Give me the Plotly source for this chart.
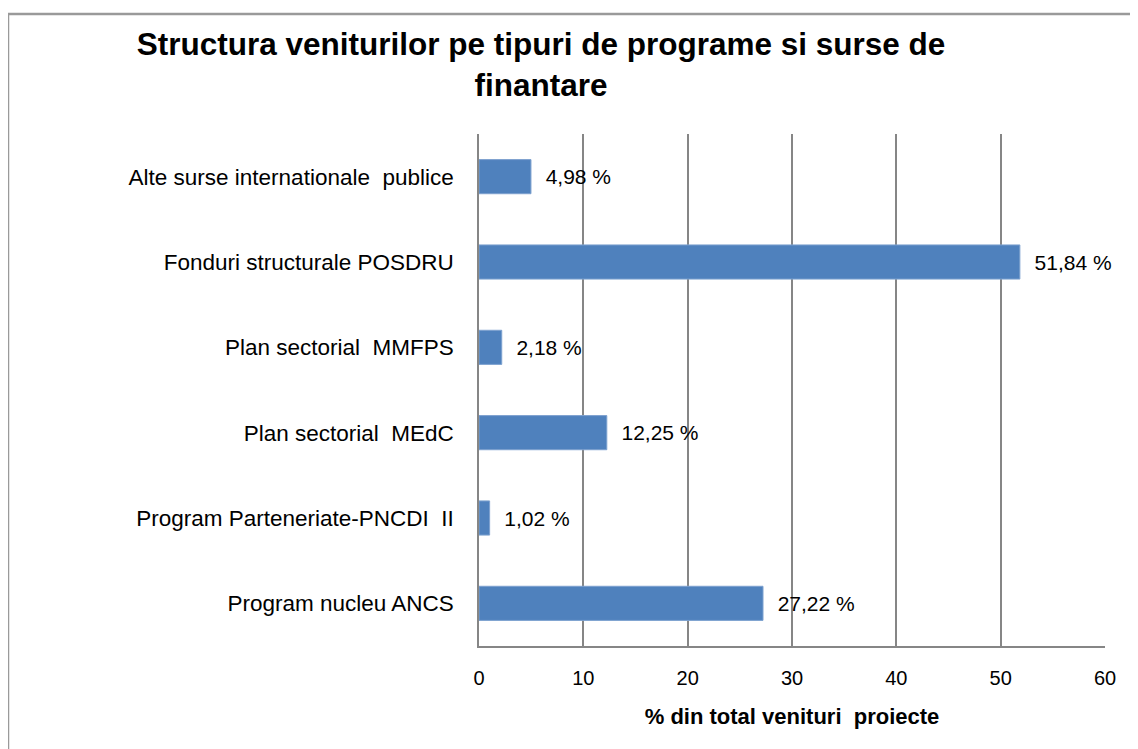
import plotly.graph_objects as go

categories = [
    "Alte surse internationale  publice",
    "Fonduri structurale POSDRU",
    "Plan sectorial  MMFPS",
    "Plan sectorial  MEdC",
    "Program Parteneriate-PNCDI  II",
    "Program nucleu ANCS",
]
values = [4.98, 51.84, 2.18, 12.25, 1.02, 27.22]
value_labels = ["4,98 %", "51,84 %", "2,18 %", "12,25 %", "1,02 %", "27,22 %"]
x_ticks = [0, 10, 20, 30, 40, 50, 60]

font_family = "Liberation Sans, Arial, sans-serif"

# page offset compensation (browser body margin)
OFF = 7
L, T = 478 - OFF, 133 - OFF
PW, PH = 626, 512
W, H = 1138, 749
R = W - L - PW
B = H - T - PH

fig = go.Figure(
    go.Bar(
        y=categories,
        x=values,
        orientation="h",
        marker=dict(color="#4F81BD", line=dict(color="#7DA1CF", width=1)),
        text=["  " + t for t in value_labels],
        textposition="outside",
        textfont=dict(family=font_family, size=21, color="black"),
        cliponaxis=False,
        hoverinfo="skip",
    )
)

bx = -L / PW
by = 1 + (T - 6) / PH

fig.update_layout(
    width=W,
    height=H,
    margin=dict(l=L, r=R, t=T, b=B),
    paper_bgcolor="white",
    plot_bgcolor="white",
    bargap=0.6,
    showlegend=False,
    font=dict(family=font_family, size=20, color="black"),
    title=dict(
        text="<b>Structura veniturilor pe tipuri de programe si surse de<br>finantare</b>",
        x=(540 - OFF) / W,
        xanchor="center",
        y=0.937,
        yanchor="top",
        font=dict(family=font_family, size=31.5, color="black"),
    ),
    shapes=[
        dict(type="line", xref="paper", yref="paper",
             x0=bx, x1=bx + W / PW, y0=by, y1=by,
             line=dict(color="#9a9a9a", width=2.5), layer="below"),
        dict(type="line", xref="paper", yref="paper",
             x0=bx, x1=bx, y0=by, y1=by - H / PH,
             line=dict(color="#9a9a9a", width=2.5), layer="below"),
    ],
)

fig.update_xaxes(
    range=[0, 60],
    tickvals=x_ticks,
    ticktext=[str(v) for v in x_ticks],
    showgrid=True,
    gridcolor="#868686",
    gridwidth=1.5,
    showline=True,
    linecolor="#868686",
    linewidth=1.5,
    zeroline=False,
    ticks="",
    ticklabelstandoff=13,
    tickfont=dict(size=20),
    title=dict(
        text="<b>% din total venituri  proiecte</b>",
        font=dict(size=22),
        standoff=21,
    ),
    fixedrange=True,
)
fig.update_yaxes(
    categoryorder="array",
    categoryarray=categories,
    autorange="reversed",
    showline=True,
    linecolor="#868686",
    linewidth=1.5,
    ticks="",
    ticklabelstandoff=19,
    tickfont=dict(size=22.5),
    showgrid=False,
    fixedrange=True,
)

fig.write_html("out.html")
